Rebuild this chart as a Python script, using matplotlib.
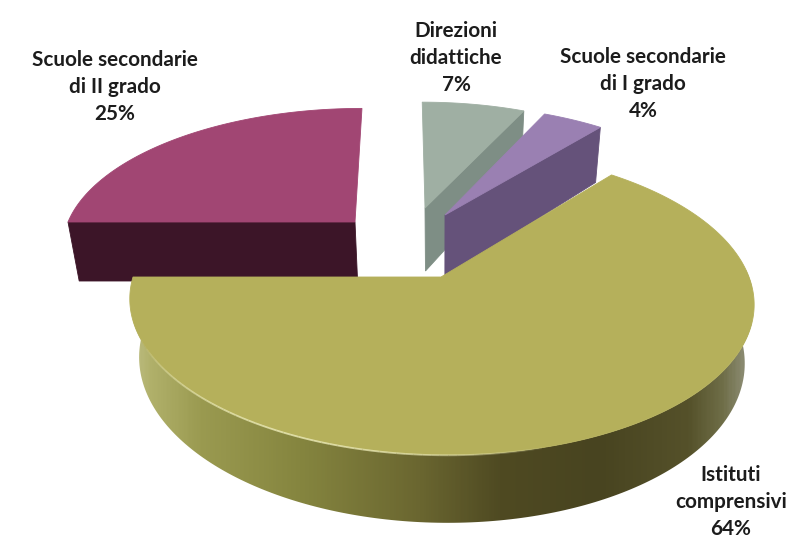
import numpy as np
import matplotlib
matplotlib.use('Agg')
import matplotlib.pyplot as plt
from matplotlib.colors import LinearSegmentedColormap
from matplotlib.patches import Polygon

plt.rcParams['font.family'] = ['Lato', 'DejaVu Sans']

names = ['Scuole secondarie\ndi II grado', 'Direzioni\ndidattiche', 'Scuole secondarie\ndi I grado', 'Istituti\ncomprensivi']
values = [25, 7, 4, 64]

top_colors = ['#a14673', '#9fafa3', '#9a80b2', '#b5b05b']
side_colors = ['#3c1528', '#7e8e85', '#65527a', '#7a7535']

apex_x = [355, 425, 445, 441]
apex_y = [222, 208, 215, 277]
radius_x = [287, 273, 282, 308]
radius_y = [132, 123, 128, 149]
depth = [59, 63, 62, 57]

label_x = [115, 456, 643, 731]
label_y = [87, 58, 84, 502]

K = 0.162
VX = 405
SHRINK = 0.03

side_grad_x = [133, 150, 200, 300, 420, 500, 600, 690, 725, 745, 752]
side_grad_c = ['#bcbc80', '#b0b06a', '#9a9a50', '#85853f', '#6a6630', '#4f4a22', '#484420', '#55512a', '#6f6e48', '#8a8a70', '#9a9a85']


def top_pts(i, t):
    X = radius_x[i] * np.cos(t)
    Y = np.sin(t)
    w = 1 + K * Y
    x = VX + (apex_x[i] - VX + X) / w
    y = apex_y[i] - radius_y[i] * Y / w
    return x, y


def bottom_pts(i, t):
    x, y = top_pts(i, t)
    w = 1 + K * np.sin(t)
    return x + (VX + 36 - x) * SHRINK, y + depth[i] / w


fig = plt.figure(figsize=(7.95, 5.4), dpi=100)
ax = fig.add_axes([0, 0, 1, 1])
ax.set_xlim(0, 795)
ax.set_ylim(540, 0)
ax.axis('off')

# slices run clockwise: pink ends at 90 deg, big one starts from 180 going ccw
ang = {}
ang[0] = (180 - values[0] * 3.6, 180)
ang[3] = (180, 180 + values[3] * 3.6)
ang[2] = (ang[3][1] - 360, ang[3][1] - 360 + values[2] * 3.6)
ang[1] = (ang[2][1], ang[2][1] + values[1] * 3.6)

# pink, gray and purple slices
for i in [0, 1, 2]:
    t0, t1 = np.radians(ang[i])
    t = np.linspace(t0, t1, 80)
    x, y = top_pts(i, t)
    xb, yb = bottom_pts(i, t)
    ax0 = apex_x[i]
    ay0 = apex_y[i]
    ax1 = ax0 + (VX + 36 - ax0) * SHRINK
    ay1 = ay0 + depth[i]
    # cut faces
    if i == 0:
        ax.fill([ax0, x[-1], xb[-1], ax1], [ay0, y[-1], yb[-1], ay1], color=side_colors[i], lw=0.6, zorder=2)
    else:
        ax.fill([ax0, x[0], xb[0], ax1], [ay0, y[0], yb[0], ay1], color=side_colors[i], lw=0.6, zorder=2 + i)
    ax.fill(np.r_[ax0, x], np.r_[ay0, y], color=top_colors[i], lw=0.6, zorder=3 + i)

# big slice
i = 3
t_front = np.radians(np.linspace(180, 363, 200))
x, y = top_pts(i, t_front)
xb, yb = bottom_pts(i, t_front)
poly = Polygon(np.c_[np.r_[x, xb[::-1]], np.r_[y, yb[::-1]]], closed=True, fc='none', ec='none')
ax.add_patch(poly)
cmap = LinearSegmentedColormap.from_list('side', [((v - 133) / (752 - 133), c) for v, c in zip(side_grad_x, side_grad_c)])
im = ax.imshow(np.linspace(0, 1, 400).reshape(1, -1), extent=[133, 752, 540, 250], cmap=cmap, aspect='auto', zorder=8)
im.set_clip_path(poly)
ax.set_xlim(0, 795)
ax.set_ylim(540, 0)

t = np.radians(np.linspace(ang[3][0], ang[3][1], 300))
x, y = top_pts(i, t)
ax.fill(np.r_[apex_x[i], x], np.r_[apex_y[i], y], color=top_colors[i], lw=0.6, zorder=9)

# light rim along the front left edge
t_rim = np.radians(np.linspace(205, 285, 60))
xr, yr = top_pts(i, t_rim)
for j in range(len(t_rim) - 1):
    al = 0.8 * np.sin(np.pi * j / (len(t_rim) - 1)) ** 0.7
    ax.plot(xr[j:j + 2], yr[j:j + 2] + 0.5, color='#ecebb8', alpha=al, lw=1.3, zorder=10, solid_capstyle='butt')

for i in range(4):
    ax.text(label_x[i], label_y[i], names[i] + '\n' + str(values[i]) + '%', ha='center', va='center',
            ma='center', fontsize=14.9, fontweight='bold', color='#1c1c1c', linespacing=1.41, zorder=12)

fig.savefig('out.png', dpi=100)
